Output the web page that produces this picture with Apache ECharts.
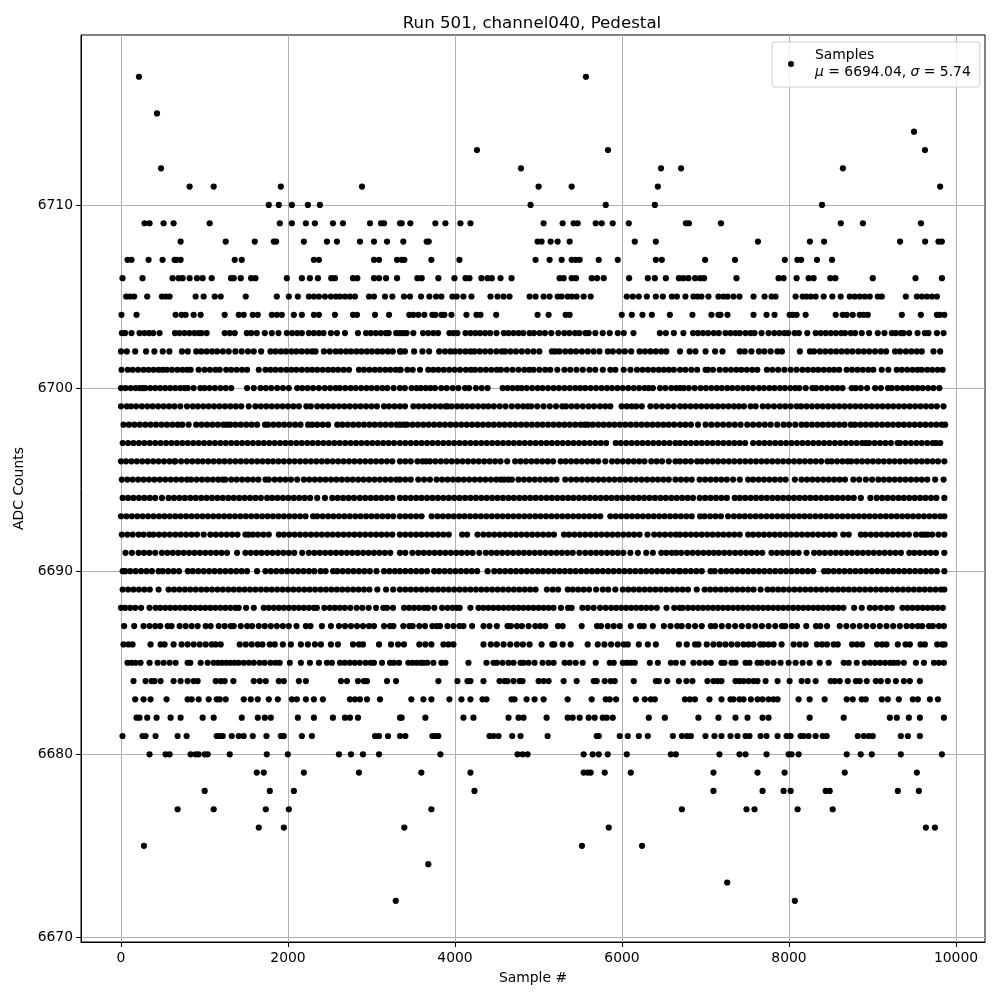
<!DOCTYPE html>
<html>
<head>
<meta charset="utf-8">
<title>Run 501, channel040, Pedestal</title>
<script src="https://cdn.jsdelivr.net/npm/echarts@6/dist/echarts.min.js"></script>
<style>
html, body { margin: 0; padding: 0; background: #fff; }
#chart { width: 1000px; height: 1000px; }
</style>
</head>
<body>
<div id="chart"></div>
<script>
// sample numbers, one list per ADC level
const s6717 = [215,5568];
const s6715 = [431];
const s6714 = [9497];
const s6713 = [4263,5832,9628];
const s6712 = [479,4790,6467,6707,8645];
const s6711 = [822,1110,1914,2886,5001,5397,6429,9810];
const s6710 = [1770,1890,2046,2238,2382,4905,5805,6393,8395];
const s6709 = [282,342,510,630,1062,1902,2046,2214,2322,2538,2658,2982,3114,3150,3342,3361,3465,3765,3885,4065,4185,5061,5289,5421,5469,5685,5757,5889,6081,6765,6801,7185,8620,8885,9580];
const s6708 = [714,1254,1602,1830,1858,2190,2466,2586,2862,3030,3186,3381,3661,3685,4989,5037,5145,5229,5373,6153,6405,7628,8250,8420,9330,9630,9790,9830];
const s6707 = [78,126,330,498,642,666,714,1362,1446,2310,2370,3030,3090,3306,3361,3393,3717,4053,4965,5133,5277,5397,5445,5493,5721,5949,6405,6477,6995,7353,7950,8100,8145,8335,8515];
const s6706 = [18,258,618,690,738,822,910,978,1086,1318,1350,1434,1558,1610,1986,2166,2262,2358,2518,2562,2778,2830,3030,3090,3174,3306,3549,3601,3801,3993,4125,4173,4317,4389,4441,4545,4677,5253,5301,5397,5449,5637,5701,5781,6085,6309,6393,6525,6681,6735,6795,6875,6935,6983,7371,7875,7935,8091,8235,8295,8495,8555,9003,9515,9831];
const s6705 = [62,110,158,314,490,538,582,894,990,1122,1194,1494,1866,2010,2118,2250,2310,2370,2442,2514,2574,2622,2682,2742,2802,2970,3030,3162,3250,3389,3461,3593,3693,3773,3837,3969,4021,4101,4197,4425,4509,4581,4653,4893,4965,5061,5133,5229,5277,5349,5397,5457,5541,5625,6057,6129,6201,6297,6405,6489,6597,6657,6759,6855,6903,6951,7035,7155,7215,7263,7335,7407,7575,7707,7791,7839,8079,8163,8211,8259,8319,8415,8519,8619,8727,8787,8847,8907,8967,9063,9111,9399,9531,9591,9651,9711,9771];
const s6704 = [6,186,654,726,774,870,954,1242,1410,1470,1578,1638,1806,1866,1926,2070,2166,2310,2370,2562,2778,2826,3042,3210,3453,3501,3561,3633,3729,3765,3837,3873,3957,4137,4257,4305,4493,4989,5121,5325,5373,5997,6117,6245,6357,6573,6843,7071,7155,7179,7263,7575,7731,7827,8007,8043,8091,8199,8559,8643,8691,8763,8847,8895,8943,9351,9579,9771,9807,9860];
const s6703 = [10,50,126,222,280,335,386,462,646,700,760,820,880,930,966,1026,1242,1302,1362,1506,1560,1626,1722,1806,1886,1986,2050,2110,2166,2250,2310,2370,2426,2514,2586,2682,2838,2934,2990,3050,3110,3170,3206,3294,3340,3381,3421,3501,3617,3680,3740,3797,3933,3981,4029,4125,4185,4245,4300,4360,4420,4497,4585,4640,4700,4760,4817,4893,4945,5013,5077,5153,5237,5309,5370,5437,5489,5561,5601,5681,5769,5853,5949,6021,6137,6453,6525,6621,6735,6851,6910,6970,7031,7099,7159,7239,7299,7359,7411,7479,7539,7587,7671,7755,7823,7885,7945,7991,8067,8119,8219,8319,8380,8440,8500,8560,8623,8671,8739,8791,8871,8959,9063,9143,9231,9279,9339,9371,9439,9539,9627,9671,9771,9851];
const s6702 = [0,70,170,300,400,500,580,730,800,900,960,1025,1090,1150,1220,1290,1370,1445,1520,1590,1678,1790,1850,1915,1975,2040,2100,2165,2230,2290,2330,2430,2500,2570,2630,2695,2755,2820,2880,2945,3005,3070,3130,3195,3255,3340,3350,3400,3510,3610,3690,3810,3880,3945,4000,4060,4125,4185,4230,4295,4360,4425,4495,4560,4600,4665,4730,4800,4870,4940,5010,5160,5200,5250,5320,5385,5450,5520,5590,5660,5730,5830,5890,5965,6035,6110,6210,6275,6340,6405,6470,6530,6695,6810,6880,7000,7115,7203,7410,7470,7550,7640,7705,7780,7860,7915,8130,8250,8300,8370,8435,8500,8565,8630,8695,8760,8830,8895,8960,9030,9100,9163,9270,9330,9400,9465,9530,9590,9730,9810];
const s6701 = [6,80,140,205,270,330,390,450,500,550,610,675,735,790,834,930,1000,1065,1130,1182,1260,1320,1385,1450,1510,1650,1730,1790,1850,1915,1980,2040,2100,2165,2230,2290,2350,2415,2480,2540,2600,2665,2730,2850,2910,2975,3040,3100,3165,3225,3290,3340,3350,3430,3493,3581,3680,3740,3800,3865,3930,3995,4060,4130,4190,4240,4305,4370,4435,4500,4550,4620,4690,4760,4830,4890,4940,5010,5080,5140,5225,5310,5380,5455,5530,5610,5680,5770,5860,5920,6020,6101,6180,6245,6310,6375,6440,6500,6560,6620,6695,6760,6830,6900,7000,7030,7090,7170,7240,7305,7370,7430,7495,7560,7620,7735,7800,7870,7945,8020,8090,8160,8225,8290,8350,8415,8480,8540,8600,8690,8755,8820,8885,8950,9010,9110,9190,9290,9350,9415,9480,9540,9590,9655,9715,9780,9840];
const s6700 = [0,55,115,175,225,260,290,350,410,470,530,590,650,710,760,800,870,950,1000,1060,1125,1190,1255,1320,1510,1590,1670,1735,1800,1870,1940,2010,2110,2170,2235,2300,2370,2440,2505,2570,2620,2685,2750,2810,2875,2940,3000,3065,3130,3190,3265,3340,3400,3480,3540,3590,3650,3705,3760,3835,3900,3970,4040,4120,4169,4250,4320,4390,4570,4630,4690,4750,4800,4860,4925,4990,5050,5115,5180,5245,5310,5375,5440,5500,5560,5625,5690,5755,5820,5880,5945,6010,6075,6140,6205,6270,6320,6370,6455,6520,6590,6650,6695,6740,6800,6870,6940,7005,7070,7135,7195,7260,7320,7385,7450,7510,7570,7640,7700,7765,7825,7890,7950,8015,8075,8125,8200,8280,8325,8390,8455,8520,8580,8640,8750,8800,8860,8935,9031,9100,9185,9230,9295,9360,9420,9480,9540,9600,9665,9730,9800];
const s6699 = [0,70,120,182,250,315,380,445,510,575,640,710,790,860,920,985,1050,1115,1180,1245,1310,1375,1440,1530,1610,1675,1740,1805,1870,1935,2000,2065,2130,2220,2274,2350,2415,2480,2545,2610,2675,2740,2805,2870,2935,3000,3065,3150,3210,3275,3340,3401,3501,3565,3630,3695,3760,3825,3885,3910,3960,4025,4085,4145,4210,4275,4340,4400,4465,4535,4605,4680,4750,4815,4870,4913,4985,5060,5135,5210,5285,5330,5395,5460,5530,5600,5665,5735,5800,5860,5995,6055,6115,6170,6237,6340,6410,6480,6550,6620,6695,6755,6820,6885,6950,7015,7080,7145,7210,7275,7340,7400,7460,7540,7600,7685,7750,7820,7890,7955,8020,8091,8145,8210,8275,8340,8405,8470,8535,8600,8665,8730,8795,8860,8925,8990,9055,9120,9185,9250,9315,9380,9445,9510,9575,9640,9705,9770,9850];
const s6698 = [30,95,160,225,290,355,420,485,550,615,680,735,810,900,965,1030,1095,1160,1225,1270,1310,1370,1435,1500,1565,1630,1725,1760,1825,1890,1955,2020,2085,2150,2240,2290,2350,2415,2480,2590,2650,2715,2780,2845,2910,2975,3040,3105,3170,3235,3300,3341,3390,3425,3490,3555,3620,3685,3750,3815,3880,3945,4010,4075,4140,4205,4270,4335,4400,4465,4530,4595,4660,4725,4790,4855,4920,4985,5050,5115,5180,5245,5310,5375,5440,5505,5555,5590,5650,5715,5780,5845,5910,5975,6040,6105,6170,6235,6300,6365,6430,6495,6560,6625,6695,6760,6825,6910,7000,7070,7140,7210,7280,7350,7420,7500,7570,7640,7710,7780,7859,7935,8000,8075,8150,8210,8275,8340,8405,8470,8535,8600,8665,8740,8790,8855,8920,8985,9050,9115,9180,9245,9310,9375,9440,9505,9570,9635,9700,9765,9830,9870];
const s6697 = [20,85,150,215,280,345,410,475,540,605,670,735,800,865,930,995,1060,1125,1190,1255,1320,1385,1450,1515,1580,1645,1710,1775,1840,1905,1970,2035,2100,2165,2230,2295,2360,2425,2490,2555,2620,2685,2750,2815,2880,2945,3010,3075,3140,3205,3270,3340,3405,3470,3535,3600,3665,3730,3795,3860,3925,3990,4055,4120,4185,4250,4315,4380,4445,4510,4575,4640,4705,4770,4835,4900,4965,5030,5095,5160,5225,5290,5355,5420,5485,5550,5615,5680,5745,5810,5925,5985,6050,6115,6180,6245,6310,6375,6440,6505,6570,6640,6695,6760,6825,6890,6955,7020,7085,7150,7215,7280,7345,7410,7475,7570,7640,7705,7770,7835,7900,7965,8030,8095,8160,8225,8290,8355,8420,8485,8550,8615,8680,8745,8810,8875,8920,8960,9025,9090,9155,9220,9300,9330,9395,9460,9525,9590,9655,9720,9760,9811];
const s6696 = [0,60,125,190,255,320,385,450,515,580,640,650,720,790,855,920,980,1045,1110,1175,1240,1305,1370,1435,1500,1565,1630,1695,1760,1820,1885,1950,2015,2080,2145,2210,2275,2340,2405,2470,2535,2600,2665,2730,2795,2860,2925,2990,3055,3120,3185,3250,3340,3405,3470,3550,3610,3650,3700,3765,3830,3895,3960,4025,4090,4155,4220,4285,4350,4415,4480,4545,4625,4720,4785,4850,4915,4980,5045,5110,5175,5265,5325,5390,5455,5520,5585,5650,5715,5800,5880,5945,6010,6075,6140,6205,6270,6350,6415,6480,6560,6640,6695,6760,6825,6900,6955,7020,7085,7150,7215,7280,7345,7410,7475,7540,7605,7670,7735,7800,7865,7930,7995,8060,8125,8190,8255,8320,8385,8460,8510,8575,8640,8700,8745,8810,8875,8940,9005,9070,9135,9200,9265,9330,9395,9460,9525,9590,9655,9720,9785,9860];
const s6695 = [10,75,140,205,270,335,400,465,530,595,660,725,790,840,905,970,1035,1100,1165,1220,1250,1320,1385,1450,1515,1580,1645,1730,1770,1840,1905,1970,2035,2110,2190,2255,2320,2385,2450,2515,2580,2645,2710,2775,2840,2905,2970,3035,3100,3165,3230,3295,3340,3405,3470,3560,3630,3700,3780,3845,3910,3975,4040,4105,4170,4235,4300,4365,4430,4495,4550,4590,4640,4681,4760,4825,4890,4955,5020,5085,5150,5215,5320,5390,5455,5520,5585,5650,5715,5780,5845,5910,5975,6040,6105,6170,6235,6300,6365,6430,6495,6560,6640,6705,6770,6835,6930,6995,7060,7125,7190,7255,7330,7410,7510,7570,7635,7700,7765,7830,7895,7960,8070,8150,8215,8280,8345,8410,8475,8540,8605,8670,8770,8840,8920,8995,9070,9135,9200,9265,9330,9395,9460,9525,9590,9655,9750,9851];
const s6694 = [20,85,150,215,280,345,410,490,570,635,700,765,830,895,960,1025,1090,1155,1220,1285,1350,1415,1480,1545,1610,1675,1750,1810,1875,1940,2005,2070,2135,2200,2265,2350,2442,2530,2595,2660,2725,2790,2860,2925,2990,3055,3120,3185,3250,3340,3405,3470,3535,3600,3665,3730,3795,3860,3925,3990,4055,4120,4185,4250,4315,4380,4445,4510,4575,4640,4705,4770,4835,4900,4965,5030,5095,5160,5225,5290,5355,5420,5485,5550,5615,5680,5745,5810,5875,5940,6005,6070,6135,6200,6265,6330,6395,6460,6525,6590,6655,6720,6785,6850,6930,6995,7060,7125,7190,7255,7350,7410,7475,7540,7605,7670,7735,7800,7865,7930,7995,8060,8125,8190,8255,8320,8385,8450,8515,8580,8645,8710,8775,8860,8975,9050,9115,9180,9245,9310,9375,9440,9505,9570,9635,9700,9765,9860];
const s6693 = [0,65,130,195,260,325,390,455,520,585,650,715,780,845,910,975,1040,1105,1170,1235,1300,1365,1430,1495,1560,1625,1690,1755,1820,1885,1950,2015,2080,2145,2210,2300,2350,2415,2480,2545,2610,2675,2740,2805,2870,2935,3000,3065,3130,3195,3260,3340,3405,3470,3535,3600,3720,3790,3855,3920,3985,4050,4115,4180,4245,4310,4375,4440,4505,4570,4635,4700,4765,4830,4895,4960,5025,5090,5155,5220,5285,5350,5415,5480,5545,5610,5675,5740,5860,5925,5990,6055,6120,6185,6250,6315,6380,6445,6510,6575,6640,6705,6770,6835,6935,6990,7055,7120,7185,7270,7340,7405,7470,7535,7600,7665,7730,7795,7860,7925,7990,8055,8120,8185,8250,8315,8380,8445,8510,8575,8640,8705,8770,8835,8900,8965,9030,9095,9160,9225,9290,9355,9420,9485,9550,9615,9680,9745,9810,9860];
const s6692 = [10,75,140,210,270,340,390,455,520,585,650,715,780,845,910,990,1070,1135,1200,1265,1330,1395,1490,1530,1580,1640,1705,1770,1890,1950,2015,2080,2145,2210,2275,2340,2405,2470,2535,2600,2665,2730,2795,2860,2925,2990,3055,3120,3185,3250,3340,3405,3470,3535,3600,3665,3730,3795,3860,3925,4085,4145,4270,4340,4405,4470,4535,4600,4665,4730,4795,4860,4925,4990,5055,5120,5185,5305,5365,5430,5495,5560,5625,5690,5755,5820,5885,5950,6015,6080,6145,6210,6305,6385,6450,6515,6580,6645,6695,6760,6825,6890,6955,7020,7085,7150,7215,7280,7345,7410,7510,7570,7635,7700,7765,7830,7895,7960,8025,8090,8155,8220,8285,8350,8415,8480,8545,8650,8715,8860,8915,8980,9045,9110,9175,9240,9305,9370,9435,9520,9585,9620,9660,9715,9790,9860];
const s6691 = [54,130,210,275,340,410,490,555,620,685,750,815,880,945,1010,1075,1140,1205,1270,1390,1490,1555,1620,1685,1750,1815,1880,1945,2010,2075,2170,2250,2315,2380,2445,2510,2575,2640,2705,2770,2835,2900,2965,3030,3095,3160,3225,3340,3405,3490,3560,3625,3690,3755,3820,3885,3950,4015,4080,4145,4210,4290,4370,4435,4500,4565,4630,4695,4760,4825,4890,4955,5020,5085,5150,5215,5280,5345,5410,5490,5560,5625,5690,5755,5820,5885,5950,6015,6100,6190,6290,6370,6470,6530,6595,6650,6710,6780,6845,6910,6975,7040,7100,7160,7225,7290,7355,7420,7485,7550,7615,7680,7790,7855,7920,7985,8050,8115,8210,8300,8365,8430,8495,8560,8625,8690,8755,8820,8885,8950,9015,9080,9145,9210,9275,9340,9440,9500,9565,9630,9695,9760,9860];
const s6690 = [20,50,110,175,240,305,370,450,500,565,630,695,800,860,925,990,1055,1120,1185,1250,1315,1380,1445,1510,1630,1730,1795,1860,1925,1990,2055,2120,2185,2250,2315,2390,2450,2540,2590,2655,2720,2785,2850,2915,2980,3060,3150,3215,3280,3340,3405,3470,3535,3600,3665,3750,3810,3875,3940,4005,4070,4135,4200,4265,4390,4470,4535,4600,4665,4730,4795,4860,4925,4990,5055,5120,5185,5250,5315,5380,5445,5510,5575,5640,5705,5770,5835,5900,5965,6030,6095,6160,6225,6290,6355,6420,6485,6550,6615,6680,6695,6760,6825,6890,6955,7060,7110,7185,7250,7315,7380,7445,7510,7575,7640,7705,7770,7835,7900,7965,8030,8095,8160,8225,8290,8420,8470,8535,8600,8665,8730,8795,8860,8925,8990,9055,9120,9185,9250,9315,9380,9445,9510,9575,9640,9705,9770,9860];
const s6689 = [20,85,150,215,280,345,450,570,635,700,765,830,895,960,1025,1090,1155,1220,1285,1350,1415,1480,1545,1610,1675,1740,1805,1870,1935,2000,2065,2130,2195,2260,2325,2390,2455,2520,2585,2650,2715,2780,2845,2910,2975,3070,3174,3260,3340,3405,3470,3535,3600,3665,3730,3795,3860,3925,3990,4055,4120,4185,4250,4315,4380,4445,4510,4575,4640,4705,4770,4835,4900,4965,5100,5170,5235,5350,5410,5475,5540,5605,5690,5770,5835,5920,6010,6075,6140,6205,6270,6335,6400,6465,6530,6595,6660,6725,6790,6895,6990,7055,7120,7185,7250,7315,7380,7445,7510,7575,7660,7743,7805,7870,7935,8000,8065,8130,8195,8260,8325,8390,8455,8520,8585,8650,8715,8780,8845,8910,8975,9040,9105,9170,9235,9300,9365,9430,9495,9560,9625,9690,9755,9820,9860];
const s6688 = [0,50,110,170,240,342,414,470,530,590,650,710,770,830,890,950,1010,1070,1130,1190,1250,1310,1370,1410,1498,1590,1710,1770,1830,1890,1950,2010,2070,2130,2190,2250,2310,2346,2434,2500,2560,2620,2680,2746,2822,2890,2966,3054,3142,3186,3258,3389,3450,3510,3570,3630,3677,3753,3845,3910,3970,4020,4057,4185,4281,4340,4400,4460,4520,4580,4640,4700,4760,4820,4880,4940,5000,5060,5120,5180,5269,5353,5397,5525,5590,5660,5737,5805,5870,5930,5990,6050,6110,6170,6230,6290,6350,6417,6533,6625,6690,6727,6790,6850,6910,6970,7030,7090,7150,7210,7270,7330,7390,7450,7510,7570,7630,7690,7750,7810,7870,7930,7990,8050,8110,8170,8230,8290,8350,8410,8470,8530,8590,8651,8779,8871,8967,9030,9100,9170,9231,9359,9420,9480,9540,9600,9660,9720,9780,9843];
const s6687 = [38,158,270,342,410,470,558,606,702,774,846,918,1014,1074,1170,1242,1314,1350,1434,1510,1570,1650,1722,1794,1866,1938,2010,2102,2214,2270,2406,2514,2610,2682,2754,2826,2898,2970,3030,3150,3222,3262,3381,3453,3493,3573,3641,3729,3781,3821,3909,3981,4053,4101,4205,4341,4413,4501,4629,4669,4741,4801,4881,4961,5021,5081,5233,5289,5517,5701,5749,5829,5901,5973,6105,6213,6261,6369,6501,6581,6661,6715,6795,6875,6955,7063,7115,7195,7275,7355,7435,7515,7595,7675,7755,7835,7915,7955,8035,8095,8207,8323,8375,8455,8607,8687,8767,8847,8927,9007,9087,9167,9247,9327,9407,9475,9543,9595,9675,9723,9795,9855];
const s6686 = [30,90,138,354,474,522,630,726,798,870,942,1014,1086,1134,1194,1422,1494,1566,1638,1694,1782,1842,1938,2034,2154,2238,2322,2394,2514,2598,2778,2850,2898,3090,3234,3318,3389,3573,3645,3717,3861,3921,3981,4341,4429,4501,4581,4661,4741,4813,4893,5037,5165,5189,5289,5385,5589,5709,5789,5869,5949,6021,6069,6201,6309,6405,6681,6775,6875,6915,7015,7095,7167,7239,7311,7383,7455,7515,7575,7655,7695,7755,7815,7911,8055,8127,8199,8335,8395,8455,8535,8583,8755,8815,8875,9055,9115,9167,9303,9395,9447,9575,9627,9775,9835,9863];
const s6685 = [78,126,174,234,342,438,510,582,654,798,830,954,1038,1110,1160,1210,1260,1310,1360,1410,1470,1530,1590,1660,1720,1790,1850,1900,2022,2154,2262,2370,2466,2526,2622,2680,2740,2800,2860,2930,2990,3030,3126,3222,3270,3330,3441,3490,3540,3590,3621,3669,3741,3837,3885,4161,4377,4461,4501,4569,4641,4701,4785,4821,4881,4953,5049,5121,5181,5313,5373,5445,5529,5685,5853,5901,6009,6057,6105,6153,6333,6429,6585,6645,6729,6855,6927,6999,7063,7191,7227,7311,7359,7479,7527,7623,7671,7743,7815,7899,7995,8079,8163,8247,8367,8475,8655,8715,8811,8907,8970,9030,9090,9150,9210,9255,9303,9375,9519,9615,9735,9795,9855];
const s6684 = [150,294,366,402,474,630,714,798,870,918,1134,1194,1242,1346,1590,1662,1734,1890,1950,2130,2214,2634,2706,2838,2910,2946,3186,3294,3801,4029,4149,4185,4341,4533,4593,4629,4701,4773,4809,5001,5061,5121,5301,5457,5661,5697,5793,5865,5913,6141,6405,6441,6541,6681,6771,6843,7023,7095,7143,7191,7359,7407,7455,7515,7575,7623,7719,7863,8007,8151,8223,8319,8499,8547,8607,8703,8799,8847,8931,9039,9099,9183,9279,9375,9447,9567];
const s6683 = [170,270,354,546,798,846,930,1050,1146,1182,1254,1470,1554,1638,1770,1878,2046,2106,2214,2310,2418,2742,2802,2862,2946,3102,3477,3621,3717,3933,4077,4185,4329,4377,4677,4713,4857,4953,5061,5349,5637,5805,5853,5929,6165,6273,6345,6393,6753,6813,6873,7047,7191,7299,7335,7407,7455,7543,7623,7683,7755,7815,7863,8115,8247,8427,8691,8763,8871,8919,9111,9183,9315,9483,9543,9687,9783];
const s6682 = [186,222,314,426,594,714,978,1110,1446,1638,1722,1794,2118,2310,2538,2682,2742,2838,3342,3361,3645,4101,4221,4641,4761,4821,5097,5349,5409,5493,5601,5673,5769,5817,5889,6321,6513,6915,7155,7359,7503,7683,7755,8247,8655,9207,9291,9435,9567,9855];
const s6681 = [18,258,294,414,678,786,1146,1182,1218,1326,1410,1470,1578,1742,1914,1950,2166,2286,3042,3090,3198,3342,3405,3729,3765,3801,4413,4461,4521,4685,4785,5109,5697,5721,5973,6069,6201,6309,6609,6717,6777,6825,6999,7107,7191,7299,7383,7479,7527,7659,7731,7863,7971,8019,8139,8175,8235,8319,8403,8451,8823,8895,8955,9003,9339,9423,9567];
const s6680 = [342,534,582,834,894,930,1002,1038,1302,1746,1998,2610,2754,2898,3090,3825,4749,4809,4869,5541,5649,5721,5829,6057,6585,6645,7167,7407,7479,7731,7995,8031,8115,8691,8859,8991,9339,9831];
const s6679 = [1626,1710,2190,2850,3597,4185,5541,5589,5625,5793,6105,7095,7623,7947,8667,9531];
const s6678 = [1002,1782,2070,4233,7095,7683,7935,8019,8439,8487,9303,9555];
const s6677 = [678,1110,1734,2010,3717,6717,7491,7587,8103,8523];
const s6676 = [1650,1950,3393,5841,9639,9747];
const s6675 = [275,5520,6240];
const s6674 = [3680];
const s6673 = [7260];
const s6672 = [3290,8070];

const levels = [6717,6715,6714,6713,6712,6711,6710,6709,6708,6707,6706,6705,6704,6703,6702,6701,6700,6699,6698,6697,6696,6695,6694,6693,6692,6691,6690,6689,6688,6687,6686,6685,6684,6683,6682,6681,6680,6679,6678,6677,6676,6675,6674,6673,6672];
const rows = [s6717,s6715,s6714,s6713,s6712,s6711,s6710,s6709,s6708,s6707,s6706,s6705,s6704,s6703,s6702,s6701,s6700,s6699,s6698,s6697,s6696,s6695,s6694,s6693,s6692,s6691,s6690,s6689,s6688,s6687,s6686,s6685,s6684,s6683,s6682,s6681,s6680,s6679,s6678,s6677,s6676,s6675,s6674,s6673,s6672];
const xTicks = [0,2000,4000,6000,8000,10000];
const yTicks = [6670,6680,6690,6700,6710];

var points = [];
rows.forEach(function (row, i) {
    row.forEach(function (x) { points.push([x, levels[i]]); });
});

var font = 'DejaVu Sans';
var myChart = echarts.init(document.getElementById('chart'), null, { renderer: 'canvas' });
var option = {
    animation: false,
    textStyle: { fontFamily: font },
    title: {
        text: 'Run 501, channel040, Pedestal',
        left: 527,
        top: 10,
        textAlign: 'center',
        textStyle: { fontFamily: font, fontSize: 16.67, fontWeight: 'normal', color: '#000' }
    },
    legend: {
        left: 772,
        top: 42,
        padding: [5, 9, 6, 16],
        icon: 'circle',
        itemWidth: 38,
        itemHeight: 6,
        itemGap: 0,
        backgroundColor: 'rgba(255,255,255,0.8)',
        borderColor: '#ccc',
        borderWidth: 1,
        borderRadius: 3,
        z: 20,
        selectedMode: false,
        formatter: function () {
            return 'Samples\n{i|\u03bc} = 6694.04, {i|\u03c3} = 5.74';
        },
        textStyle: {
            fontFamily: font,
            fontSize: 13.9,
            color: '#000',
            lineHeight: 17,
            rich: { i: { fontFamily: font, fontSize: 13.9, fontStyle: 'italic', color: '#000', lineHeight: 17 } }
        }
    },
    grid: {
        left: 81,
        right: 15,
        top: 35,
        bottom: 58,
        show: true,
        borderColor: '#000',
        borderWidth: 1,
        backgroundColor: '#fff'
    },
    xAxis: {
        type: 'value',
        min: -479,
        max: 10347,
        name: 'Sample #',
        nameLocation: 'middle',
        nameGap: 29,
        nameTextStyle: { fontFamily: font, fontSize: 13.9, color: '#000' },
        axisLine: { show: true, onZero: false, lineStyle: { color: '#000', width: 1 } },
        axisTick: { show: true, length: 5, customValues: xTicks, lineStyle: { color: '#000', width: 1 } },
        axisLabel: { customValues: xTicks, margin: 9, showMinLabel: true, showMaxLabel: true, fontFamily: font, fontSize: 13.9, color: '#000', formatter: function (v) { return String(v); } },
        splitLine: { show: true, lineStyle: { color: '#b0b0b0', width: 1 } }
    },
    yAxis: {
        type: 'value',
        min: 6669.75,
        max: 6719.28,
        name: 'ADC Counts',
        nameLocation: 'middle',
        nameGap: 51,
        nameTextStyle: { fontFamily: font, fontSize: 13.9, color: '#000' },
        axisLine: { show: true, onZero: false, lineStyle: { color: '#000', width: 1 } },
        axisTick: { show: true, length: 5, customValues: yTicks, lineStyle: { color: '#000', width: 1 } },
        axisLabel: { customValues: yTicks, margin: 8, fontFamily: font, fontSize: 13.9, color: '#000', formatter: function (v) { return String(v); } },
        splitLine: { show: true, lineStyle: { color: '#b0b0b0', width: 1 } }
    },
    series: [
        {
            name: 'Samples',
            type: 'scatter',
            symbol: 'circle',
            symbolSize: 6.2,
            silent: true,
            itemStyle: { color: '#000', opacity: 1 },
            data: points
        }
    ]
};
myChart.setOption(option);
</script>
</body>
</html>
